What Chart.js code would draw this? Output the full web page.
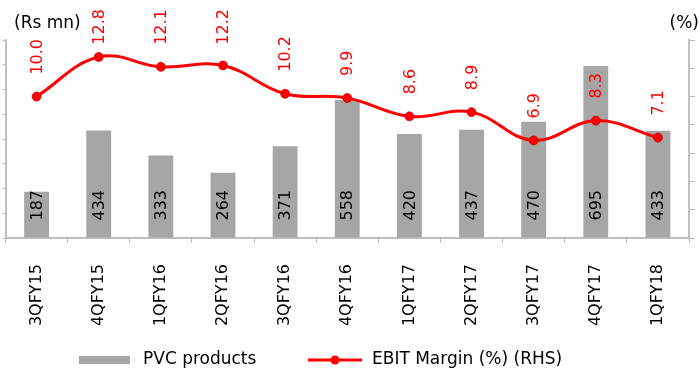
<!DOCTYPE html>
<html>
<head>
<meta charset="utf-8">
<script src="https://cdn.jsdelivr.net/npm/chart.js@4.4.0/dist/chart.umd.min.js"></script>
<style>
  html, body { margin: 0; padding: 0; background: #fff; }
  #wrap { width: 700px; height: 368px; }
</style>
</head>
<body>
<div id="wrap"><canvas id="chart" width="700" height="368"></canvas></div>
<script>
const quarters = ["3QFY15", "4QFY15", "1QFY16", "2QFY16", "3QFY16", "4QFY16", "1QFY17", "2QFY17", "3QFY17", "4QFY17", "1QFY18"];
const pvcProducts = [187, 434, 333, 264, 371, 558, 420, 437, 470, 695, 433];
const ebitMargin = [10.0, 12.8, 12.1, 12.2, 10.2, 9.9, 8.6, 8.9, 6.9, 8.3, 7.1];

const FONT = "'DejaVu Sans', sans-serif";
const AXIS = "#bfbfbf";

// value labels, rotated like the original
const labelPlugin = {
  id: "valueLabels",
  afterDatasetsDraw(chart) {
    const ctx = chart.ctx;
    ctx.save();
    const bars = chart.getDatasetMeta(1).data;
    ctx.font = "16px " + FONT;
    ctx.fillStyle = "#000";
    ctx.textAlign = "left";
    ctx.textBaseline = "middle";
    bars.forEach((b, i) => {
      ctx.save();
      ctx.translate(b.x + 1, b.base - 17);
      ctx.rotate(-Math.PI / 2);
      ctx.fillText(String(pvcProducts[i]), 0, 0);
      ctx.restore();
    });
    const pts = chart.getDatasetMeta(0).data;
    ctx.fillStyle = "#ff0000";
    pts.forEach((p, i) => {
      const txt = ebitMargin[i].toFixed(1);
      const w = ctx.measureText(txt).width;
      let y = p.y - 22;
      if (y - w < 9) y = 9 + w;
      ctx.save();
      ctx.translate(p.x + 1, y);
      ctx.rotate(-Math.PI / 2);
      ctx.fillText(txt, 0, 0);
      ctx.restore();
    });
    ctx.restore();
  },
  afterDraw(chart) {
    const ctx = chart.ctx;
    ctx.save();
    ctx.font = "17px " + FONT;
    ctx.fillStyle = "#000";
    ctx.textBaseline = "middle";
    ctx.textAlign = "left";
    ctx.fillText("(Rs mn)", 14, 24);
    ctx.textAlign = "right";
    ctx.fillText("(%)", 699, 24);

    // legend
    const ly = 360;
    ctx.fillStyle = "#a6a6a6";
    ctx.fillRect(79, ly - 4, 51, 8);
    ctx.fillStyle = "#000";
    ctx.textAlign = "left";
    ctx.fillText("PVC products", 143, ly);
    ctx.strokeStyle = "#ff0000";
    ctx.lineWidth = 3;
    ctx.beginPath();
    ctx.moveTo(308, ly);
    ctx.lineTo(362, ly);
    ctx.stroke();
    ctx.fillStyle = "#ff0000";
    ctx.beginPath();
    ctx.arc(335, ly, 4.5, 0, Math.PI * 2);
    ctx.fill();
    ctx.fillStyle = "#000";
    ctx.fillText("EBIT Margin (%) (RHS)", 372, ly);
    ctx.restore();
  }
};

new Chart(document.getElementById("chart"), {
  type: "bar",
  data: {
    labels: quarters,
    datasets: [
      {
        type: "line",
        label: "EBIT Margin (%) (RHS)",
        data: ebitMargin,
        yAxisID: "y1",
        borderColor: "#ff0000",
        borderWidth: 3,
        backgroundColor: "#ff0000",
        pointBackgroundColor: "#ff0000",
        pointBorderColor: "rgba(190,0,0,0.7)",
        pointBorderWidth: 1,
        pointRadius: 4.5,
        tension: 0.4,
        order: 0
      },
      {
        label: "PVC products",
        data: pvcProducts,
        yAxisID: "y",
        backgroundColor: "#a6a6a6",
        barPercentage: 0.4,
        categoryPercentage: 1.0,
        order: 1
      }
    ]
  },
  options: {
    responsive: false,
    animation: false,
    layout: { padding: { top: 40, bottom: 30, left: 0, right: 0 } },
    plugins: {
      legend: { display: false },
      tooltip: { enabled: false }
    },
    scales: {
      x: {
        grid: { display: true, drawOnChartArea: false, color: AXIS, tickLength: 5, offset: true },
        border: { color: AXIS, width: 2 },
        ticks: {
          color: "#000",
          font: { family: FONT, size: 16 },
          minRotation: 90,
          maxRotation: 90,
          padding: 21
        },
        afterFit(scale) { scale.height = 100; }
      },
      y: {
        position: "left",
        min: 0,
        max: 800,
        ticks: { stepSize: 100, display: false },
        grid: { display: true, drawOnChartArea: false, color: AXIS, tickLength: 3 },
        border: { color: AXIS, width: 2 },
        afterFit(scale) { scale.width = 4; }
      },
      y1: {
        position: "right",
        min: 0,
        max: 14,
        ticks: { stepSize: 2, display: false },
        grid: { display: true, drawOnChartArea: false, color: AXIS, tickLength: 6 },
        border: { color: AXIS, width: 2 },
        afterFit(scale) { scale.width = 11; }
      }
    }
  },
  plugins: [labelPlugin]
});
</script>
</body>
</html>
